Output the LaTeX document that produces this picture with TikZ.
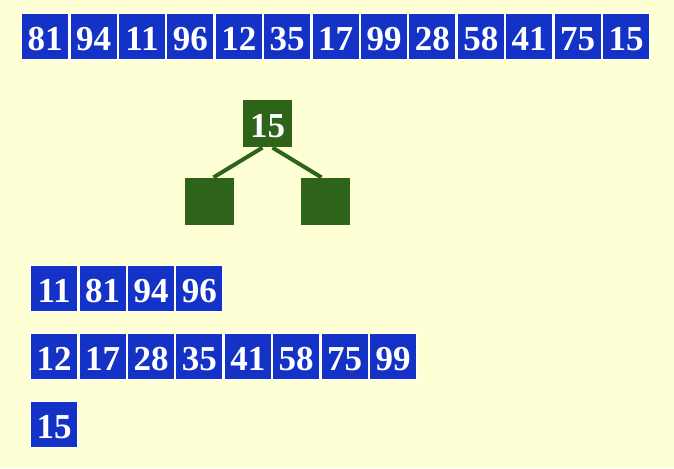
\documentclass[tikz,border=0pt]{standalone}
\usepackage{fontspec}
\setmainfont{Liberation Serif}
\usepackage{tikz}
\usetikzlibrary{matrix,positioning,backgrounds}

\definecolor{paper}{RGB}{255,255,213}
\definecolor{cellblue}{RGB}{20,50,198}
\definecolor{treegreen}{RGB}{45,100,25}

\tikzset{
  cell/.style={draw=white, line width=0.6pt, fill=cellblue, text=white,
    minimum width=23.6pt, minimum height=22.9pt, inner sep=0pt,
    text height=14pt, text depth=0pt,
    font=\fontsize{17.5}{17.5}\selectfont\bfseries},
  knot/.style={cell, draw=none, fill=treegreen, minimum width=24.2pt, minimum height=23.5pt},
  row/.style={matrix of nodes, nodes={cell}, column sep=0pt, inner sep=0pt, outer sep=0pt, anchor=north west}
}

\begin{document}
\begin{tikzpicture}[x=0.5pt, y=-0.5pt]
  \fill[paper] (0,0) rectangle (674,468);
  \useasboundingbox (0,0) rectangle (674,468);

  \matrix (in) [row] at (21,13)
  {
81 & 94 & 11 & 96 & 12 & 35 & 17 & 99 & 28 & 58 & 41 & 75 & 15 \\
};

  % pivot and its two halves
  \node[knot] (pv) at (267.5,123.5) {15};
  \node[knot] (lo) at (209.5,201.5) {};
  \node[knot] (hi) at (325.5,201.5) {};
  \draw[treegreen, line width=2pt]
    ([xshift=-2.5pt]pv.south) -- ([xshift=2pt]lo.north)
    ([xshift=2.5pt]pv.south) -- ([xshift=-2pt]hi.north);

  \matrix (small) [row] at (30,265)
  {
11 & 81 & 94 & 96 \\
};
  \matrix (big) [row] at (30,333)
  {
12 & 17 & 28 & 35 & 41 & 58 & 75 & 99 \\
};
  \matrix (mid) [row] at (30,401)
  {
15 \\
};
\end{tikzpicture}
\end{document}
